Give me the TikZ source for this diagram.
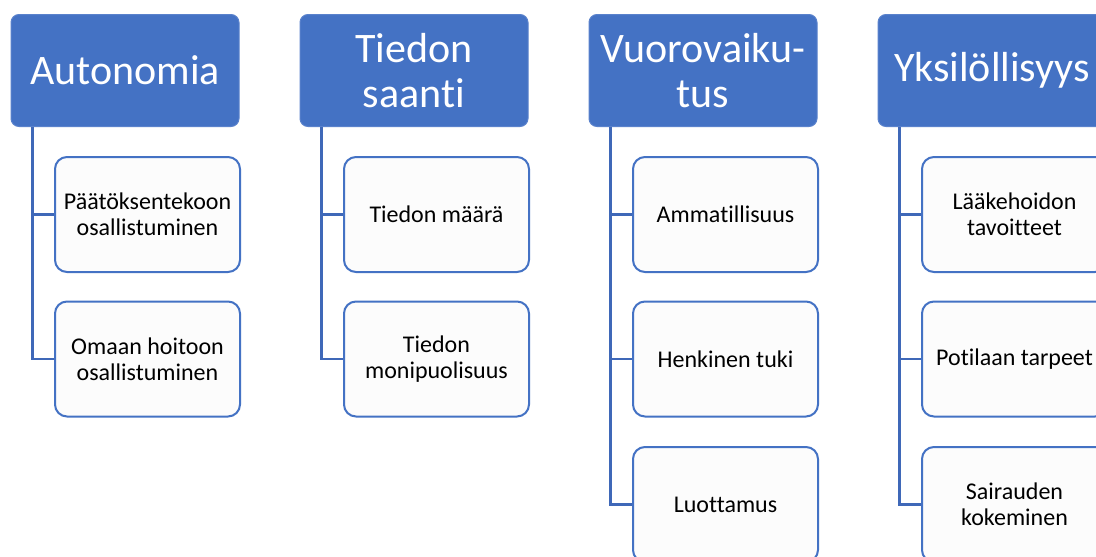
\documentclass[tikz,border=0pt]{standalone}
\usepackage{fontspec}
\setmainfont{Carlito}[Ligatures=NoCommon]
\definecolor{hdr}{HTML}{4472C4}
\definecolor{hdredge}{HTML}{5A82CC}
\definecolor{kid}{HTML}{FCFCFC}
\definecolor{wire}{HTML}{3F68B8}
\tikzset{
  hdrbox/.style={rectangle, rounded corners=8pt, fill=hdr, draw=hdredge, line width=1pt,
    minimum width=228pt, minimum height=112pt, inner sep=0pt, text=white, align=center,
    font=\fontsize{42pt}{45pt}\selectfont},
  kidbox/.style={rectangle, rounded corners=12pt, fill=kid, draw=hdr, line width=2pt,
    minimum width=185pt, minimum height=115pt, inner sep=0pt, text=black, align=center,
    font=\fontsize{24pt}{26pt}\selectfont},
  wireline/.style={draw=wire, line width=2.2pt},
}
\begin{document}
\begin{tikzpicture}[x=1pt, y=-1pt]
\useasboundingbox (0,0) rectangle (1096,557);
\clip (0,0) rectangle (1096,557);
\fill[white] (0,0) rectangle (1096,557);
% headers
\node[hdrbox] (h1) at (125,70.5) {Autonomia};
\node[hdrbox] (h2) at (414,70.5) {Tiedon\\saanti};
\node[hdrbox] (h3) at (703,70.5) {Vuorovaiku-\\tus};
\node[hdrbox] (h4) at (992,70.5) {Yksilöllisyys};
% children
\node[kidbox] (c11) at (147.5,214.5) {Päätöksentekoon\\osallistuminen};
\node[kidbox] (c12) at (147.5,359) {Omaan hoitoon\\osallistuminen};
\node[kidbox] (c21) at (436.5,214.5) {Tiedon määrä};
\node[kidbox] (c22) at (436.5,359) {Tiedon\\monipuolisuus};
\node[kidbox] (c31) at (725.5,214.5) {Ammatillisuus};
\node[kidbox] (c32) at (725.5,359) {Henkinen tuki};
\node[kidbox] (c33) at (725.5,504.5) {Luottamus};
\node[kidbox] (c41) at (1014.5,214.5) {Lääkehoidon\\tavoitteet};
\node[kidbox] (c42) at (1014.5,359) {Potilaan tarpeet};
\node[kidbox] (c43) at (1014.5,504.5) {Sairauden\\kokeminen};
% connectors
\foreach \h/\kids in {h1/{c11,c12}, h2/{c21,c22}, h3/{c31,c32,c33}, h4/{c41,c42,c43}}{
  \foreach \k in \kids {
    \draw[wireline] ([xshift=22pt]\h.south west) |- (\k.west);
  }
}
\end{tikzpicture}
\end{document}
